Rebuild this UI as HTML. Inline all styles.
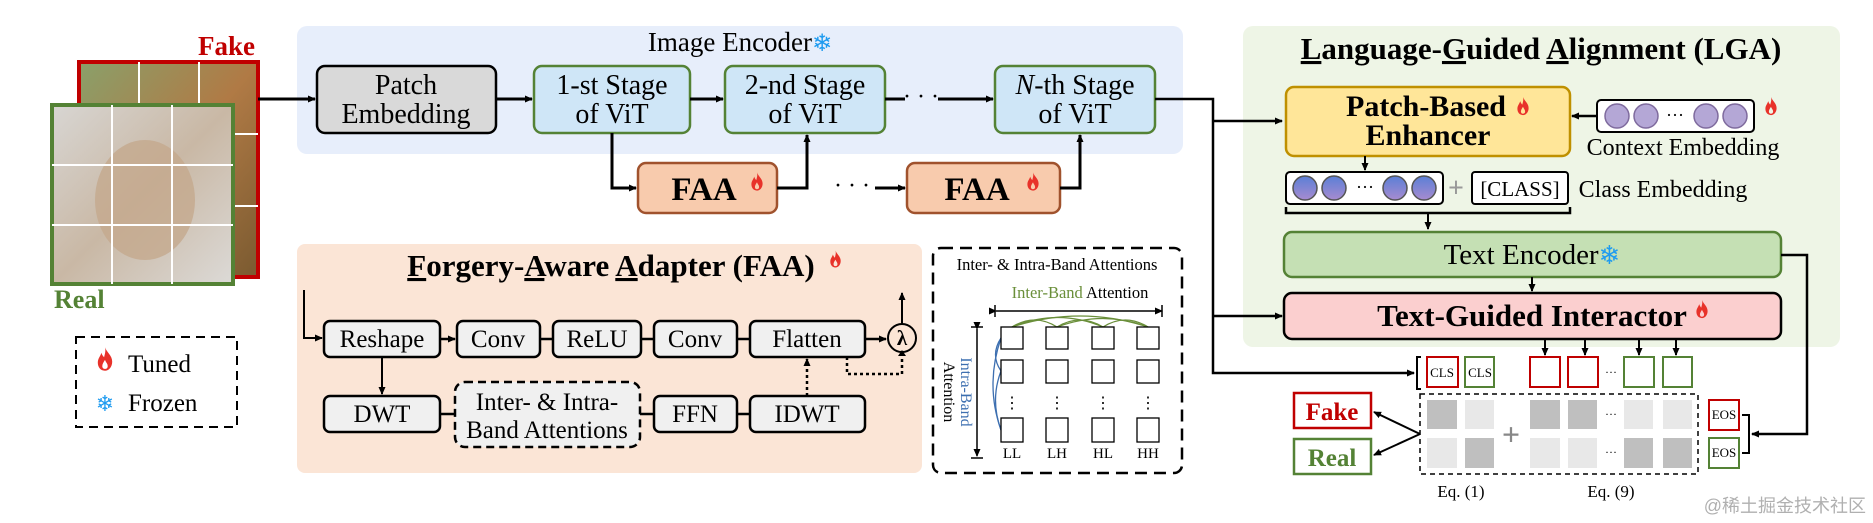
<!DOCTYPE html>
<html><head><meta charset="utf-8"><style>
html,body{margin:0;padding:0;background:#fff;}
svg{display:block;font-family:"Liberation Serif",serif;}
</style></head><body>
<svg width="1873" height="523" viewBox="0 0 1873 523" xmlns="http://www.w3.org/2000/svg">
<defs>
<marker id="ah" markerWidth="8" markerHeight="8" refX="7" refY="4" orient="auto" markerUnits="userSpaceOnUse"><path d="M0,0.5 L8,4 L0,7.5 z" fill="#000"/></marker>
<symbol id="flame" viewBox="0 0 20 26"><path d="M10,0 C12,6 18,9 18,16 C18,22 14,26 10,26 C5,26 2,22 2,17 C2,12 5,10 6,6 C7,9 8,10 9,11 C10,7 11,4 10,0 z M10,14 C8,17 7,19 7,21 C7,23 8.5,24 10,24 C12,24 13,22.5 13,21 C13,18 11,17 10,14 z" fill="#e8322a" fill-rule="evenodd"/></symbol>
<linearGradient id="cg" x1="0" y1="0" x2="0" y2="1"><stop offset="0" stop-color="#5b7fd6"/><stop offset="1" stop-color="#a78bd0"/></linearGradient>
<linearGradient id="cat" x1="0" y1="0" x2="1" y2="1"><stop offset="0" stop-color="#d8d6d3"/><stop offset="0.5" stop-color="#c9b8a5"/><stop offset="1" stop-color="#dcdad7"/></linearGradient>
<linearGradient id="horse" x1="0" y1="0" x2="1" y2="1"><stop offset="0" stop-color="#8aa06a"/><stop offset="0.5" stop-color="#b07a45"/><stop offset="1" stop-color="#7a5a30"/></linearGradient>
</defs>

<rect x="297" y="26" width="886" height="128" rx="10" fill="#e7eefb"/>
<rect x="297" y="244" width="625" height="229" rx="8" fill="#fbe5d6"/>
<rect x="1243" y="26" width="597" height="321" rx="10" fill="#eef5e6"/>

<text x="255" y="55" font-size="27" font-weight="bold" fill="#c00000" text-anchor="end">Fake</text>
<rect x="79" y="62" width="179" height="215" fill="url(#horse)" stroke="#c00000" stroke-width="4"/>
<line x1="139" y1="62" x2="139" y2="277" stroke="#fff" stroke-width="2"/>
<line x1="199" y1="62" x2="199" y2="277" stroke="#fff" stroke-width="2"/>
<line x1="79" y1="134" x2="258" y2="134" stroke="#fff" stroke-width="2"/>
<line x1="79" y1="206" x2="258" y2="206" stroke="#fff" stroke-width="2"/>
<rect x="52" y="105" width="181" height="179" fill="url(#cat)" stroke="#548235" stroke-width="4"/>
<ellipse cx="145" cy="200" rx="50" ry="60" fill="#c4a98d" opacity="0.8"/>
<line x1="112" y1="105" x2="112" y2="284" stroke="#fff" stroke-width="2"/>
<line x1="172" y1="105" x2="172" y2="284" stroke="#fff" stroke-width="2"/>
<line x1="52" y1="165" x2="233" y2="165" stroke="#fff" stroke-width="2"/>
<line x1="52" y1="225" x2="233" y2="225" stroke="#fff" stroke-width="2"/>
<text x="54" y="308" font-size="26" font-weight="bold" fill="#548235">Real</text>

<rect x="76" y="337" width="161" height="90" fill="none" stroke="#000" stroke-width="2" stroke-dasharray="9,6"/>
<use href="#flame" x="96" y="347" width="18" height="24"/>
<text x="128" y="372" font-size="25">Tuned</text>
<text x="105" y="411" font-size="22" fill="#1e9bf0" text-anchor="middle" font-family="DejaVu Sans">❄</text>
<text x="128" y="411" font-size="25">Frozen</text>

<text x="740" y="51" font-size="27" text-anchor="middle">Image Encoder<tspan fill="#1e9bf0" font-family="DejaVu Sans" font-size="24">❄</tspan></text>
<line x1="258" y1="99" x2="315" y2="99" stroke="#000" stroke-width="3" marker-end="url(#ah)"/>
<rect x="317" y="66" width="179" height="67" rx="8" fill="#d9d9d9" stroke="#000" stroke-width="2.5"/>
<text x="406" y="94" font-size="28" text-anchor="middle">Patch</text>
<text x="406" y="123" font-size="28" text-anchor="middle">Embedding</text>
<line x1="496" y1="99" x2="532" y2="99" stroke="#000" stroke-width="3" marker-end="url(#ah)"/>
<rect x="534" y="66" width="156" height="67" rx="8" fill="#cfe6f7" stroke="#548235" stroke-width="2.5"/>
<text x="612" y="94" font-size="28" text-anchor="middle">1-st Stage</text>
<text x="612" y="123" font-size="28" text-anchor="middle">of ViT</text>
<line x1="690" y1="99" x2="723" y2="99" stroke="#000" stroke-width="3" marker-end="url(#ah)"/>
<rect x="725" y="66" width="160" height="67" rx="8" fill="#cfe6f7" stroke="#548235" stroke-width="2.5"/>
<text x="805" y="94" font-size="28" text-anchor="middle">2-nd Stage</text>
<text x="805" y="123" font-size="28" text-anchor="middle">of ViT</text>
<line x1="885" y1="99" x2="905" y2="99" stroke="#000" stroke-width="3"/>
<text x="921" y="104" font-size="24" text-anchor="middle">· · ·</text>
<line x1="938" y1="99" x2="993" y2="99" stroke="#000" stroke-width="3" marker-end="url(#ah)"/>
<rect x="995" y="66" width="160" height="67" rx="8" fill="#cfe6f7" stroke="#548235" stroke-width="2.5"/>
<text x="1075" y="94" font-size="28" text-anchor="middle"><tspan font-style="italic">N</tspan>-th Stage</text>
<text x="1075" y="123" font-size="28" text-anchor="middle">of ViT</text>

<polyline points="612,133 612,188 636,188" fill="none" stroke="#000" stroke-width="3" marker-end="url(#ah)"/>
<rect x="638" y="163" width="139" height="50" rx="8" fill="#f8cbad" stroke="#a0522d" stroke-width="2.5"/>
<text x="704" y="200" font-size="33" font-weight="bold" text-anchor="middle">FAA</text>
<use href="#flame" x="750" y="172" width="14" height="19"/>
<polyline points="777,188 807,188 807,135" fill="none" stroke="#000" stroke-width="3" marker-end="url(#ah)"/>
<text x="852" y="193" font-size="24" text-anchor="middle">· · ·</text>
<line x1="875" y1="188" x2="905" y2="188" stroke="#000" stroke-width="3" marker-end="url(#ah)"/>
<rect x="907" y="163" width="153" height="50" rx="8" fill="#f8cbad" stroke="#a0522d" stroke-width="2.5"/>
<text x="977" y="200" font-size="33" font-weight="bold" text-anchor="middle">FAA</text>
<use href="#flame" x="1026" y="172" width="14" height="19"/>
<polyline points="1060,188 1080,188 1080,135" fill="none" stroke="#000" stroke-width="3" marker-end="url(#ah)"/>

<text x="611" y="276" font-size="31" font-weight="bold" text-anchor="middle"><tspan text-decoration="underline">F</tspan>orgery-<tspan text-decoration="underline">A</tspan>ware <tspan text-decoration="underline">A</tspan>dapter (FAA)</text>
<use href="#flame" x="829" y="250" width="13" height="18"/>
<polyline points="304,290 304,338 322,338" fill="none" stroke="#000" stroke-width="2" marker-end="url(#ah)"/>
<g fill="#f0f0f0" stroke="#000" stroke-width="2.5">
<rect x="324" y="321" width="116" height="36" rx="6"/>
<rect x="457" y="321" width="83" height="36" rx="6"/>
<rect x="553" y="321" width="88" height="36" rx="6"/>
<rect x="654" y="321" width="83" height="36" rx="6"/>
<rect x="750" y="321" width="115" height="36" rx="6"/>
<rect x="324" y="396" width="116" height="36" rx="6"/>
<rect x="654" y="396" width="83" height="36" rx="6"/>
<rect x="750" y="396" width="115" height="36" rx="6"/>
</g>
<rect x="455" y="382" width="185" height="65" rx="10" fill="#f0f0f0" stroke="#000" stroke-width="2.5" stroke-dasharray="8,5"/>
<g font-size="25" text-anchor="middle">
<text x="382" y="347">Reshape</text>
<text x="498" y="347">Conv</text>
<text x="597" y="347">ReLU</text>
<text x="695" y="347">Conv</text>
<text x="807" y="347">Flatten</text>
<text x="382" y="422">DWT</text>
<text x="547" y="410">Inter- &amp; Intra-</text>
<text x="547" y="438">Band Attentions</text>
<text x="695" y="422">FFN</text>
<text x="807" y="422">IDWT</text>
</g>
<line x1="440" y1="339" x2="455" y2="339" stroke="#000" stroke-width="2.5" marker-end="url(#ah)"/>
<g stroke="#000" stroke-width="2.5">
<line x1="540" y1="339" x2="553" y2="339"/>
<line x1="641" y1="339" x2="654" y2="339"/>
<line x1="737" y1="339" x2="750" y2="339"/>
<line x1="440" y1="414" x2="455" y2="414"/>
<line x1="640" y1="414" x2="654" y2="414"/>
<line x1="737" y1="414" x2="750" y2="414"/>
</g>
<line x1="382" y1="357" x2="382" y2="394" stroke="#000" stroke-width="2" marker-end="url(#ah)"/>
<line x1="865" y1="339" x2="886" y2="339" stroke="#000" stroke-width="2.5" marker-end="url(#ah)"/>
<circle cx="902" cy="338" r="14" fill="#fbe5d6" stroke="#000" stroke-width="2"/>
<text x="902" y="345" font-size="21" font-weight="bold" text-anchor="middle">λ</text>
<line x1="902" y1="324" x2="902" y2="293" stroke="#000" stroke-width="2" marker-end="url(#ah)"/>
<line x1="807" y1="396" x2="807" y2="359" stroke="#000" stroke-width="2.5" stroke-dasharray="3,3" marker-end="url(#ah)"/>
<polyline points="847,357 847,374 902,374 902,354" fill="none" stroke="#000" stroke-width="2.5" stroke-dasharray="3,3"/>
<path d="M898,356 L902,350 L906,356 z" fill="#000"/>

<rect x="933" y="248" width="249" height="225" rx="8" fill="#fff" stroke="#000" stroke-width="2.5" stroke-dasharray="12,7"/>
<text x="1057" y="270" font-size="16.5" text-anchor="middle">Inter- &amp; Intra-Band Attentions</text>
<text x="1080" y="298" font-size="16.5" text-anchor="middle"><tspan fill="#6a8f3a">Inter-Band</tspan> Attention</text>
<line x1="996" y1="311" x2="1162" y2="311" stroke="#000" stroke-width="1.5" marker-start="url(#ah)" marker-end="url(#ah)"/>
<line x1="995" y1="305" x2="995" y2="317" stroke="#000" stroke-width="1.5"/>
<line x1="1162" y1="305" x2="1162" y2="317" stroke="#000" stroke-width="1.5"/>
<g fill="none" stroke="#6a8f3a" stroke-width="1.3">
<path d="M1012,327 Q1035,313 1057,327"/><path d="M1012,327 Q1058,308 1103,327"/><path d="M1012,327 Q1080,305 1148,327"/>
<path d="M1057,327 Q1080,313 1103,327"/><path d="M1057,327 Q1103,310 1148,327"/><path d="M1103,327 Q1125,313 1148,327"/>
</g>
<g fill="none" stroke="#3d6fb0" stroke-width="1.3">
<path d="M1001,338 Q990,355 1001,371"/><path d="M1001,338 Q985,385 1001,430"/><path d="M1001,371 Q990,400 1001,430"/>
</g>
<line x1="977" y1="329" x2="977" y2="456" stroke="#000" stroke-width="1.5" marker-start="url(#ah)" marker-end="url(#ah)"/>
<line x1="971" y1="327" x2="983" y2="327" stroke="#000" stroke-width="1.5"/>
<line x1="971" y1="458" x2="983" y2="458" stroke="#000" stroke-width="1.5"/>
<text transform="translate(961,392) rotate(90)" font-size="16" text-anchor="middle" fill="#3d6fb0">Intra-Band</text>
<text transform="translate(944,392) rotate(90)" font-size="16" text-anchor="middle">Attention</text>
<g fill="#fff" stroke="#000" stroke-width="1.3">
<rect x="1001" y="327" width="22" height="22"/><rect x="1046" y="327" width="22" height="22"/><rect x="1092" y="327" width="22" height="22"/><rect x="1137" y="327" width="22" height="22"/>
<rect x="1001" y="360" width="22" height="23"/><rect x="1046" y="360" width="22" height="23"/><rect x="1092" y="360" width="22" height="23"/><rect x="1137" y="360" width="22" height="23"/>
<rect x="1001" y="418" width="22" height="24"/><rect x="1046" y="418" width="22" height="24"/><rect x="1092" y="418" width="22" height="24"/><rect x="1137" y="418" width="22" height="24"/>
</g>
<g font-size="16" text-anchor="middle">
<text x="1012" y="408">⋮</text><text x="1057" y="408">⋮</text><text x="1103" y="408">⋮</text><text x="1148" y="408">⋮</text>
</g>
<g font-size="15" text-anchor="middle">
<text x="1012" y="458">LL</text><text x="1057" y="458">LH</text><text x="1103" y="458">HL</text><text x="1148" y="458">HH</text>
</g>

<polyline points="1155,99 1213,99 1213,373 1414,373" fill="none" stroke="#000" stroke-width="2.5" marker-end="url(#ah)"/>
<line x1="1213" y1="121" x2="1282" y2="121" stroke="#000" stroke-width="2.5" marker-end="url(#ah)"/>
<line x1="1213" y1="316" x2="1282" y2="316" stroke="#000" stroke-width="2.5" marker-end="url(#ah)"/>

<text x="1541" y="59" font-size="31" font-weight="bold" text-anchor="middle"><tspan text-decoration="underline">L</tspan>anguage-<tspan text-decoration="underline">G</tspan>uided <tspan text-decoration="underline">A</tspan>lignment (LGA)</text>
<rect x="1286" y="87" width="284" height="69" rx="8" fill="#ffe699" stroke="#bf9000" stroke-width="2.5"/>
<text x="1426" y="116" font-size="30" font-weight="bold" text-anchor="middle">Patch-Based</text>
<use href="#flame" x="1516" y="96" width="14" height="20"/>
<text x="1428" y="145" font-size="30" font-weight="bold" text-anchor="middle">Enhancer</text>
<rect x="1597" y="100" width="157" height="32" rx="4" fill="#fff" stroke="#000" stroke-width="2"/>
<g fill="#b4a7d6" stroke="#7f6b9e" stroke-width="1.5">
<circle cx="1617" cy="116" r="12"/><circle cx="1646" cy="116" r="12"/><circle cx="1706" cy="116" r="12"/><circle cx="1735" cy="116" r="12"/>
</g>
<text x="1675" y="121" font-size="18" text-anchor="middle">···</text>
<use href="#flame" x="1764" y="96" width="14" height="20"/>
<line x1="1597" y1="116" x2="1572" y2="116" stroke="#000" stroke-width="2.5" marker-end="url(#ah)"/>
<text x="1683" y="155" font-size="24" text-anchor="middle">Context Embedding</text>
<line x1="1365" y1="156" x2="1365" y2="170" stroke="#000" stroke-width="2" marker-end="url(#ah)"/>
<rect x="1286" y="172" width="157" height="32" rx="4" fill="#fff" stroke="#000" stroke-width="2"/>
<g fill="url(#cg)" stroke="#555" stroke-width="1.5">
<circle cx="1305" cy="188" r="12"/><circle cx="1334" cy="188" r="12"/><circle cx="1395" cy="188" r="12"/><circle cx="1424" cy="188" r="12"/>
</g>
<text x="1365" y="193" font-size="18" text-anchor="middle">···</text>
<text x="1456" y="197" font-size="28" font-weight="bold" fill="#999" text-anchor="middle">+</text>
<rect x="1472" y="172" width="96" height="32" rx="3" fill="#fff" stroke="#000" stroke-width="2"/>
<text x="1520" y="196" font-size="21" text-anchor="middle">[CLASS]</text>
<text x="1663" y="197" font-size="24" text-anchor="middle">Class Embedding</text>
<polyline points="1286,207 1286,213 1570,213 1570,207" fill="none" stroke="#000" stroke-width="2.5"/>
<line x1="1428" y1="213" x2="1428" y2="229" stroke="#000" stroke-width="2" marker-end="url(#ah)"/>
<rect x="1284" y="232" width="497" height="45" rx="8" fill="#c5e0b4" stroke="#548235" stroke-width="2.5"/>
<text x="1532" y="264" font-size="29" text-anchor="middle">Text Encoder<tspan fill="#1e9bf0" font-family="DejaVu Sans" font-size="26">❄</tspan></text>
<line x1="1532" y1="277" x2="1532" y2="291" stroke="#000" stroke-width="2" marker-end="url(#ah)"/>
<polyline points="1781,255 1807,255 1807,434 1752,434" fill="none" stroke="#000" stroke-width="2.5" marker-end="url(#ah)"/>
<rect x="1284" y="293" width="497" height="46" rx="8" fill="#fbcfcf" stroke="#000" stroke-width="2.5"/>
<text x="1532" y="326" font-size="31" font-weight="bold" text-anchor="middle">Text-Guided Interactor</text>
<use href="#flame" x="1695" y="299" width="14" height="20"/>

<g stroke="#000" stroke-width="2">
<line x1="1545" y1="339" x2="1545" y2="355" marker-end="url(#ah)"/>
<line x1="1585" y1="339" x2="1585" y2="355" marker-end="url(#ah)"/>
<line x1="1639" y1="339" x2="1639" y2="355" marker-end="url(#ah)"/>
<line x1="1676" y1="339" x2="1676" y2="355" marker-end="url(#ah)"/>
</g>
<polyline points="1421,357 1417,357 1417,389 1421,389" fill="none" stroke="#000" stroke-width="2"/>
<rect x="1427" y="357" width="31" height="30" fill="#fff" stroke="#c00000" stroke-width="2"/>
<rect x="1465" y="357" width="29" height="30" fill="#fff" stroke="#548235" stroke-width="2"/>
<text x="1442" y="377" font-size="13" text-anchor="middle">CLS</text>
<text x="1480" y="377" font-size="13" text-anchor="middle">CLS</text>
<rect x="1530" y="357" width="30" height="30" fill="#fff" stroke="#c00000" stroke-width="2"/>
<rect x="1568" y="357" width="30" height="30" fill="#fff" stroke="#c00000" stroke-width="2"/>
<text x="1611" y="376" font-size="12" text-anchor="middle">···</text>
<rect x="1624" y="357" width="30" height="30" fill="#fff" stroke="#548235" stroke-width="2"/>
<rect x="1663" y="357" width="29" height="30" fill="#fff" stroke="#548235" stroke-width="2"/>

<rect x="1420" y="394" width="278" height="80" fill="#fff" stroke="#000" stroke-width="1.5" stroke-dasharray="5,4"/>
<g>
<rect x="1427" y="400" width="30" height="29" fill="#bfbfbf"/><rect x="1465" y="400" width="29" height="29" fill="#e8e8e8"/>
<rect x="1530" y="400" width="30" height="29" fill="#bfbfbf"/><rect x="1568" y="400" width="29" height="29" fill="#bfbfbf"/>
<rect x="1624" y="400" width="29" height="29" fill="#e8e8e8"/><rect x="1663" y="400" width="29" height="29" fill="#e8e8e8"/>
<rect x="1427" y="438" width="30" height="30" fill="#e8e8e8"/><rect x="1465" y="438" width="29" height="30" fill="#bfbfbf"/>
<rect x="1530" y="438" width="30" height="30" fill="#e8e8e8"/><rect x="1568" y="438" width="29" height="30" fill="#e8e8e8"/>
<rect x="1624" y="438" width="29" height="30" fill="#bfbfbf"/><rect x="1663" y="438" width="29" height="30" fill="#bfbfbf"/>
</g>
<text x="1611" y="418" font-size="12" text-anchor="middle">···</text>
<text x="1611" y="456" font-size="12" text-anchor="middle">···</text>
<text x="1511" y="445" font-size="32" font-weight="bold" fill="#888" text-anchor="middle">+</text>

<rect x="1294" y="393" width="77" height="35" fill="#fff" stroke="#c00000" stroke-width="2.5"/>
<text x="1332" y="420" font-size="25" font-weight="bold" fill="#c00000" text-anchor="middle">Fake</text>
<rect x="1294" y="439" width="77" height="35" fill="#fff" stroke="#548235" stroke-width="2.5"/>
<text x="1332" y="466" font-size="25" font-weight="bold" fill="#548235" text-anchor="middle">Real</text>
<line x1="1420" y1="434" x2="1374" y2="412" stroke="#000" stroke-width="2" marker-end="url(#ah)"/>
<line x1="1420" y1="434" x2="1374" y2="455" stroke="#000" stroke-width="2" marker-end="url(#ah)"/>

<rect x="1709" y="400" width="30" height="30" fill="#fff" stroke="#c00000" stroke-width="2"/>
<rect x="1709" y="438" width="30" height="30" fill="#fff" stroke="#548235" stroke-width="2"/>
<text x="1724" y="419" font-size="13" text-anchor="middle">EOS</text>
<text x="1724" y="457" font-size="13" text-anchor="middle">EOS</text>
<polyline points="1742,415 1749,415 1749,453 1742,453" fill="none" stroke="#000" stroke-width="2"/>

<text x="1461" y="497" font-size="17" text-anchor="middle">Eq. (1)</text>
<text x="1611" y="497" font-size="17" text-anchor="middle">Eq. (9)</text>
<text x="1866" y="512" font-size="18" fill="#b0b0b0" text-anchor="end" font-family="'Liberation Sans','Noto Sans CJK SC',sans-serif">@稀土掘金技术社区</text>
</svg>
</body></html>
